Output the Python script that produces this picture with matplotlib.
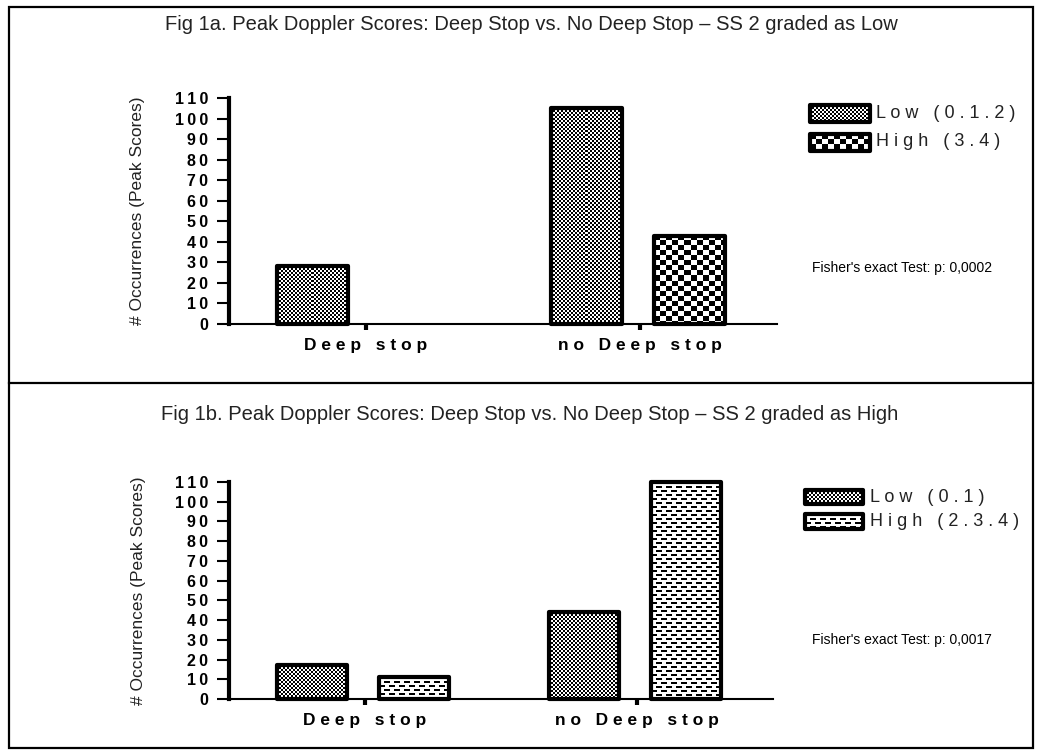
import numpy as np
import matplotlib
matplotlib.use("Agg")
import matplotlib.pyplot as plt
from matplotlib.patches import Rectangle

# values
categories = ["Deep stop", "no Deep stop"]
low_a = [28, 105]
high_a = [0, 43]
low_b = [17, 44]
high_b = [11, 110]
legend_a = ["Low (0.1.2)", "High (3.4)"]
legend_b = ["Low (0.1)", "High (2.3.4)"]
titles = ["Fig 1a. Peak Doppler Scores: Deep Stop vs. No Deep Stop \u2013 SS 2 graded as Low",
          "Fig 1b. Peak Doppler Scores: Deep Stop vs. No Deep Stop \u2013 SS 2 graded as High"]
pvalues = ["0,0002", "0,0017"]
yticks = list(range(0, 111, 10))

W, H = 1038, 750
FONT = ["Liberation Sans", "DejaVu Sans"]
INK = "#222222"


def texture(kind, w, h):
    yy, xx = np.mgrid[0:h, 0:w]
    if kind == "fine":
        black = ((xx // 2) + (yy // 2)) % 2 == 0
    elif kind == "checker":
        black = ((xx // 6) + (yy // 5)) % 2 == 0
    else:  # dashes, brick-like
        shift = np.where((yy // 4) % 2 == 0, 0, 5)
        black = ((yy % 4) < 2) & (((xx + shift) % 10) < 6)
    return np.where(black, 0.0, 1.0)


def fill(axis, x0, x1, y0, y1, kind, z=2):
    p0 = axis.transData.transform((x0, y0))
    p1 = axis.transData.transform((x1, y1))
    w = max(int(round(abs(p1[0] - p0[0]))), 1)
    h = max(int(round(abs(p1[1] - p0[1]))), 1)
    axis.imshow(texture(kind, w, h), cmap="gray", vmin=0, vmax=1,
                extent=(x0, x1, y0, y1), interpolation="nearest",
                aspect="auto", zorder=z)


fig = plt.figure(figsize=(W / 100, H / 100), dpi=100)
fig.patch.set_facecolor("white")

# background layer in pixel coordinates: frame, titles, legends, notes
bg = fig.add_axes([0, 0, 1, 1])
bg.set_xlim(0, W)
bg.set_ylim(H, 0)
bg.axis("off")
bg.add_patch(Rectangle((9, 7), 1024, 741, fill=False, lw=1.6, ec="black", clip_on=False))
bg.plot([9, 1033], [383, 383], color="black", lw=1.6)

panels = [
    dict(rect=[229 / W, 1 - 324 / H, 548 / W, 226 / H], low=low_a, high=high_a,
         kinds=("fine", "checker"), title=titles[0], tpos=(531, 25), legend=legend_a,
         sw_x=(810, 870), sw_y=[(105, 122), (134, 151)], tx=876, ty=[113, 142],
         p=pvalues[0], ppos=(812, 268)),
    dict(rect=[229 / W, 1 - 699 / H, 544 / W, 217 / H], low=low_b, high=high_b,
         kinds=("fine", "dashes"), title=titles[1], tpos=(530, 415), legend=legend_b,
         sw_x=(805, 863), sw_y=[(490, 504), (514, 529)], tx=870, ty=[497, 522],
         p=pvalues[1], ppos=(812, 640)),
]

x = np.arange(len(categories))
bw = 0.26

for pn in panels:
    ax = fig.add_axes(pn["rect"])
    ax.set_facecolor("none")
    ax.set_xlim(-0.5, 1.5)
    ax.set_ylim(0, 110)

    for vals, off, kind in [(pn["low"], -0.195, pn["kinds"][0]),
                            (pn["high"], 0.18, pn["kinds"][1])]:
        bars = ax.bar(x + off, vals, bw, facecolor="none", edgecolor="black",
                      lw=3, joinstyle="round", zorder=3, clip_on=False)
        for b, v in zip(bars, vals):
            if v <= 0:
                b.set_visible(False)
                continue
            fill(ax, b.get_x(), b.get_x() + b.get_width(), 0, v, kind)

    ax.set_xlim(-0.5, 1.5)
    ax.set_ylim(0, 110)
    for s in ("top", "right"):
        ax.spines[s].set_visible(False)
    ax.spines["left"].set_linewidth(3)
    ax.spines["bottom"].set_linewidth(1.5)
    ax.set_yticks(yticks)
    ax.set_yticklabels(["\u2009".join(str(v)) for v in yticks], fontweight="bold",
                       fontsize=11.5, family=FONT)
    ax.set_xticks(x)
    ax.set_xticklabels([" ".join(c) for c in categories], fontweight="bold",
                       fontsize=12.5, family=FONT)
    ax.tick_params(axis="y", length=9, width=1.5, pad=6)
    ax.tick_params(axis="x", length=4, width=3, pad=6)
    ax.set_ylabel("# Occurrences (Peak Scores)", fontsize=12.5, family=FONT, color=INK)
    ax.yaxis.set_label_coords(-0.153, 0.5)

    bg.text(*pn["tpos"], pn["title"], ha="center", va="center", fontsize=14.5,
            family=FONT, color=INK)
    for (y0, y1), ty, lab, kind in zip(pn["sw_y"], pn["ty"], pn["legend"], pn["kinds"]):
        x0, x1 = pn["sw_x"]
        fill(bg, x0, x1, y1, y0, kind)
        bg.add_patch(Rectangle((x0, y0), x1 - x0, y1 - y0, fill=False, ec="black",
                               lw=3, joinstyle="round", zorder=3))
        bg.text(pn["tx"], ty, " ".join(lab), ha="left", va="center", fontsize=13,
                family=FONT, color=INK)
    bg.text(*pn["ppos"], "Fisher's exact Test: p: " + pn["p"], ha="left", va="center",
            fontsize=10, family=FONT, color="black")

bg.set_xlim(0, W)
bg.set_ylim(H, 0)

fig.savefig("out.png", dpi=100, facecolor="white")
